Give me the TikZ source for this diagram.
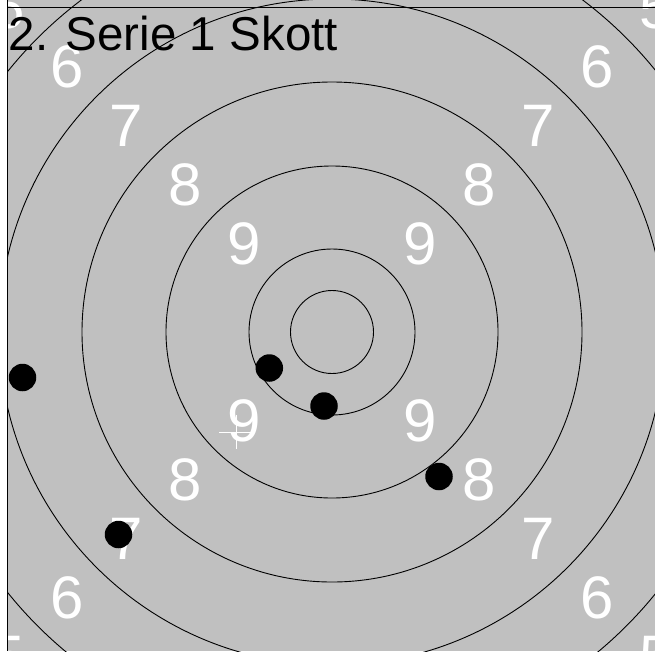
\documentclass[tikz,border=0pt]{standalone}
\usepackage{fontspec}
\setmainfont{Liberation Sans}
\definecolor{targetgrey}{RGB}{192,192,192}
\begin{document}
\begin{tikzpicture}[x=1pt,y=-1pt,
  ring/.style={draw=black,line width=0.9pt},
  lbl/.style={text=white,font=\fontsize{60}{60}\selectfont,inner sep=0pt,anchor=center},
  shot/.style={fill=black,circle,inner sep=0pt,minimum size=27.5pt},
  frameline/.style={draw=black,line width=1.3pt},
  crossline/.style={draw=white,line width=1pt}]
\useasboundingbox (0,0) rectangle (655,651);
\begin{scope}
  \clip (8,0) rectangle (655,651);
  \fill[targetgrey] (8,0) rectangle (655,651);
  \coordinate (c) at (332,332);
  \foreach \r in {41.5,83,166,250,333,416}
    \draw[ring] (c) circle[radius=\r];
  \foreach \n/\d in {9/88,8/147,7/206,6/265,5/324} {
    \node[lbl] (l\n tl) at ({332-\d},{332-\d}) {\n};
    \node[lbl] (l\n tr) at ({332+\d},{332-\d}) {\n};
    \node[lbl] (l\n bl) at ({332-\d},{333+\d}) {\n};
    \node[lbl] (l\n br) at ({332+\d},{333+\d}) {\n};
  }
  \node[shot] (s1) at (22.5,377.5) {};
  \node[shot] (s2) at (269.3,368) {};
  \node[shot] (s3) at (324,406) {};
  \node[shot] (s4) at (439,476.5) {};
  \node[shot] (s5) at (118.5,534.5) {};
  \coordinate (xl) at (219,432);
  \coordinate (xr) at (253,432);
  \coordinate (xt) at (236,415);
  \coordinate (xb) at (236,449);
  \draw[crossline] (xl) -- (xr);
  \draw[crossline] (xt) -- (xb);
  \node[anchor=base west,inner sep=0pt,font=\fontsize{47.5}{47.5}\selectfont,text=black]
    (title) at (8.5,50) {2. Serie 1 Skott};
\end{scope}
\coordinate (vt) at (7.6,0);
\coordinate (vb) at (7.6,651);
\coordinate (hl) at (7.6,7.4);
\coordinate (hr) at (655,7.4);
\draw[frameline] (vt) -- (vb);
\draw[frameline] (hl) -- (hr);
\end{tikzpicture}
\end{document}
